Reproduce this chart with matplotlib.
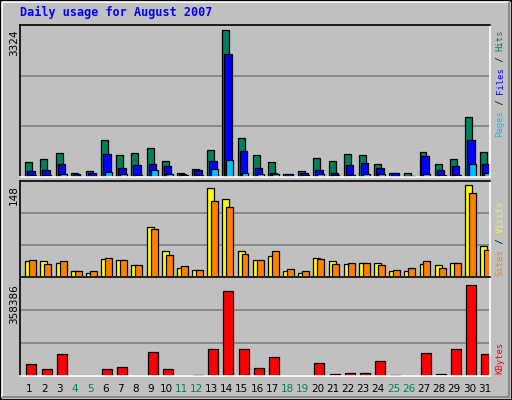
import matplotlib
matplotlib.use("Agg")
import matplotlib.pyplot as plt
from matplotlib.patches import Rectangle
from matplotlib.lines import Line2D

days = list(range(1, 32))
hits = [346,414,549,98,143,842,504,549,662,368,98,188,617,3324,887,504,346,75,143,436,368,526,504,301,98,98,571,301,414,1361,571]
files = [143,165,301,75,98,526,211,278,301,256,75,165,368,2782,594,211,98,75,98,165,98,278,323,211,98,30,481,165,256,842,301]
pages = [53,53,75,30,30,120,75,53,165,75,53,53,188,391,98,75,75,30,53,75,53,53,75,75,30,30,75,53,53,301,98]
visits = [25,25,23,9,7,29,28,20,81,41,15,12,142,125,41,28,33,9,7,31,25,21,23,23,9,9,21,20,23,148,49]
sites = [28,21,25,9,10,31,28,20,77,36,17,12,122,113,37,28,41,13,9,29,21,23,23,20,12,15,26,15,23,134,44]
kbytes = [45800,26200,87600,600,600,26200,34000,600,95500,26200,600,3500,107300,334800,107300,30100,75900,600,600,49700,9000,13000,13000,57500,3500,600,91600,9000,107300,358386,87600]
weekend = [4,5,11,12,18,19,25,26]
title = "Daily usage for August 2007"

W, H = 512, 400
fig = plt.figure(figsize=(W/100, H/100), dpi=100)
fig.patch.set_facecolor("#C0C0C0")
ft = fig.transFigure

def px(x, y, w, h):
    return [x/W, 1-(y+h)/H, w/W, h/H]

# outer bevel
fig.add_artist(Rectangle((0, 0), 1, 1, transform=ft, fill=False, ec="black", lw=2))
fig.add_artist(Line2D([2/W, 2/W, (W-3)/W], [3/H, 1-2/H, 1-2/H], transform=ft, color="white", lw=1.2))
fig.add_artist(Line2D([3/W, (W-3)/W, (W-3)/W], [3/H, 3/H, 1-3/H], transform=ft, color="#808080", lw=1.2))

fig.text(20/W, 1-12/H, title, color="#0000FF", family="DejaVu Sans Mono", weight="bold",
         fontsize=8.5, va="center", ha="left")

X0, XW = 20, 470

def panel(y, h, ymax, series, ylab, ylabval, rlabel):
    ax = fig.add_axes(px(X0, y, XW, h))
    ax.set_facecolor("#C0C0C0")
    ax.set_xlim(0.5, 31.5)
    ax.set_ylim(0, ymax)
    for k in (1, 2):
        ax.axhline(ymax*k/3, color="#808080", lw=1.2, zorder=0)
    for vals, off, wd, col in series:
        ax.bar([d-0.5+off for d in days], vals, width=wd, align="edge", color=col,
               edgecolor="black", lw=0.9, zorder=2)
    ax.set_xticks([]); ax.set_yticks([])
    for s in ("left", "top"):
        ax.spines[s].set_color("black"); ax.spines[s].set_linewidth(1.2)
    for s in ("right", "bottom"):
        ax.spines[s].set_color("white"); ax.spines[s].set_linewidth(1.2)
    top = y + h*(1-ylabval/ymax)
    fig.text(14/W, 1-top/H, ylab, rotation=90, va="top", ha="center", fontsize=7.5, color="black")
    # right label, bottom-to-top
    yb, cw = rlabel[0], 5.35
    k = 0
    for seg, col in rlabel[1]:
        fig.text(500/W, 1-(yb-k*cw)/H, seg, rotation=90, va="bottom", ha="center",
                 family="DejaVu Sans Mono", fontsize=6.4, color=col)
        k += len(seg)
    return ax

panel(25, 152, 3437, [(hits, 0.35, 0.46, "#00805C"), (files, 0.48, 0.5, "#0000FF"),
                     (pages, 0.61, 0.46, "#00C0FF")], "3324", 3324,
      (137, [("Pages", "#00C0FF"), (" / ", "black"), ("Files", "#0000FF"),
             (" / ", "black"), ("Hits", "#00805C")]))
panel(181, 96, 154, [(visits, 0.35, 0.46, "#FFFF00"), (sites, 0.61, 0.46, "#FF8000")],
      "148", 148,
      (276, [("Sites", "#FF8000"), (" / ", "black"), ("Visits", "#FFFF00")]))
panel(277, 99, 388600, [(kbytes, 0.42, 0.66, "#FF0000")], "358386", 358386,
      (374, [("KBytes", "#FF0000")]))

slot = XW/31
for d in days:
    fig.text((X0 + (d-0.5)*slot + 2)/W, 1-389/H, str(d), ha="center", va="center", fontsize=7.5,
             color="#00805C" if d in weekend else "black")

fig.savefig("out.png", dpi=100, facecolor=fig.get_facecolor())
